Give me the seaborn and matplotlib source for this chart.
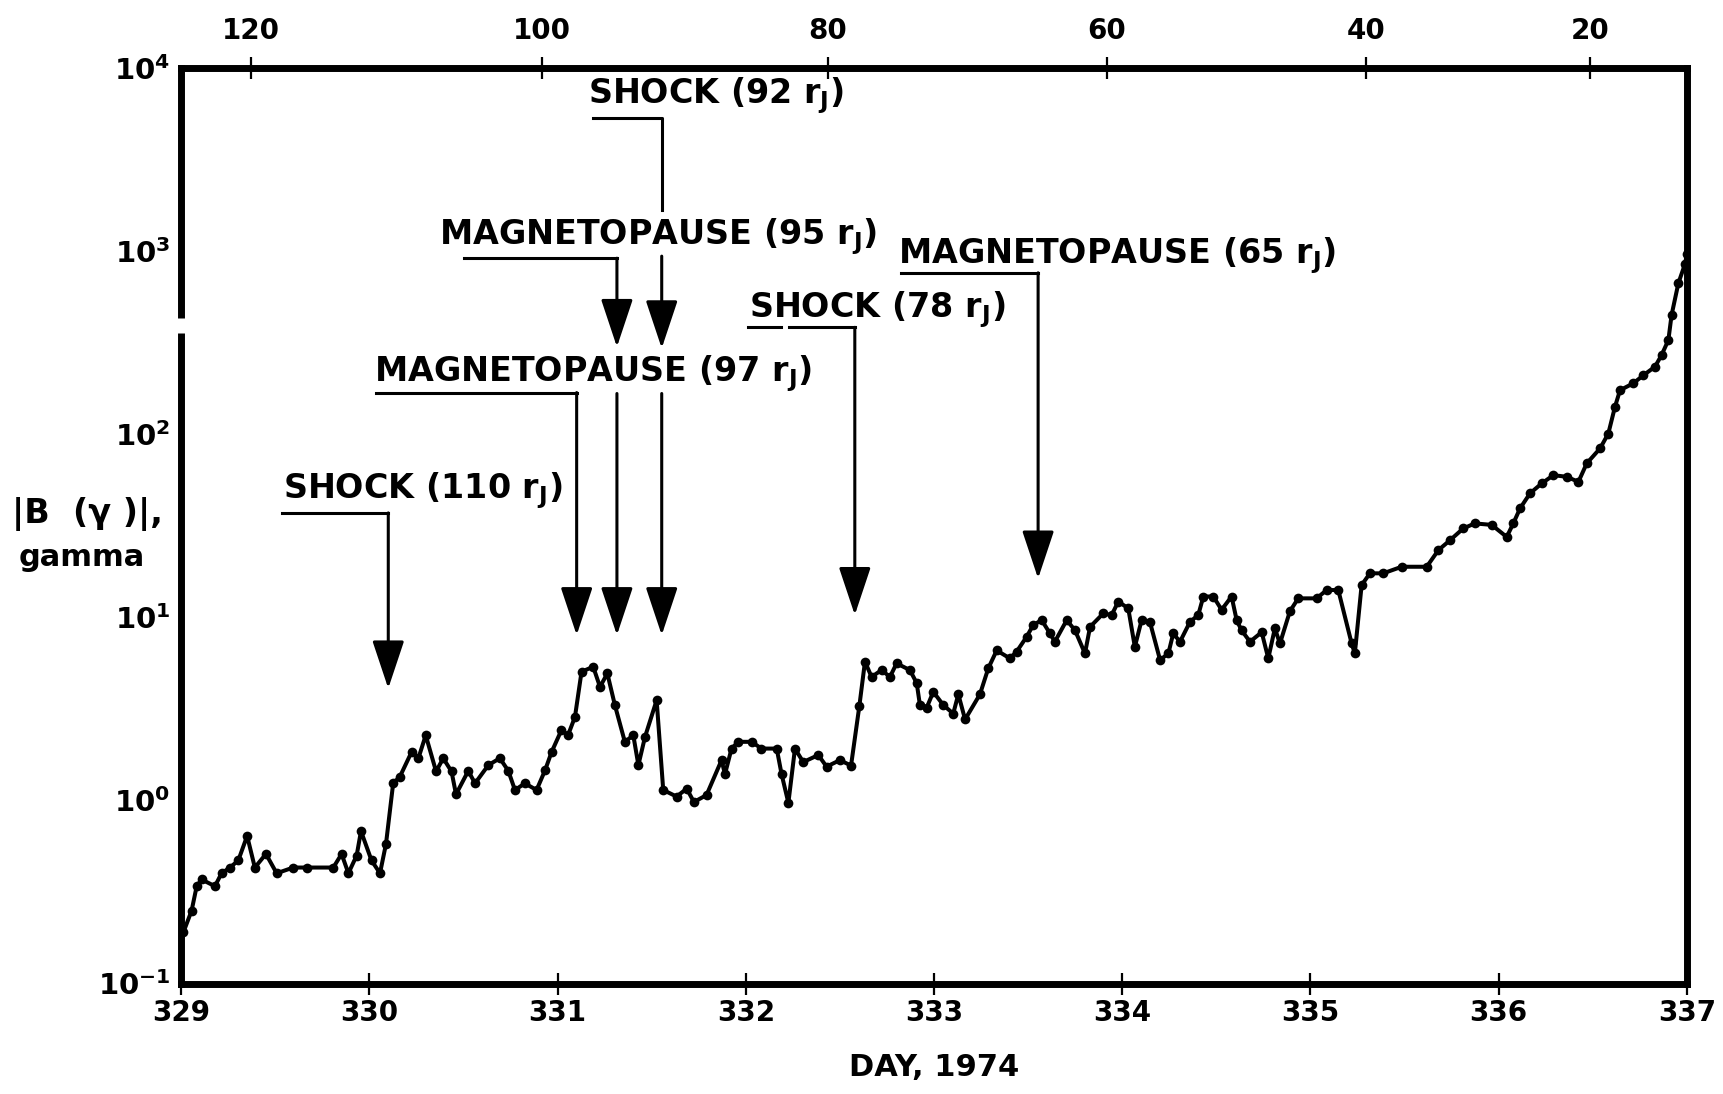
import matplotlib
matplotlib.use("Agg")
import matplotlib.pyplot as plt
import seaborn as sns

# |B| (gamma) versus day of 1974
day = [329.011, 329.055, 329.082, 329.108, 329.179, 329.214, 329.259, 329.303, 329.350, 329.391,
       329.450, 329.507, 329.595, 329.666, 329.808, 329.852, 329.888, 329.932, 329.955, 330.011,
       330.056, 330.088, 330.126, 330.162, 330.224, 330.260, 330.299, 330.354, 330.392, 330.436,
       330.460, 330.525, 330.561, 330.632, 330.693, 330.738, 330.773, 330.826, 330.888, 330.933,
       330.968, 331.020, 331.055, 331.092, 331.127, 331.189, 331.225, 331.264, 331.304, 331.357,
       331.402, 331.429, 331.464, 331.526, 331.561, 331.632, 331.686, 331.724, 331.791, 331.871,
       331.889, 331.924, 331.960, 332.031, 332.083, 332.164, 332.190, 332.226, 332.261, 332.305,
       332.385, 332.429, 332.500, 332.559, 332.603, 332.633, 332.668, 332.721, 332.766, 332.801,
       332.872, 332.908, 332.925, 332.961, 332.996, 333.049, 333.102, 333.129, 333.165, 333.244,
       333.288, 333.333, 333.403, 333.439, 333.492, 333.527, 333.572, 333.616, 333.642, 333.705,
       333.749, 333.802, 333.829, 333.899, 333.944, 333.979, 334.032, 334.067, 334.103, 334.147,
       334.201, 334.245, 334.271, 334.307, 334.360, 334.404, 334.431, 334.484, 334.528, 334.581,
       334.608, 334.634, 334.679, 334.741, 334.776, 334.811, 334.838, 334.891, 334.935, 335.033,
       335.086, 335.148, 335.219, 335.236, 335.272, 335.316, 335.387, 335.485, 335.618, 335.680,
       335.742, 335.812, 335.874, 335.963, 336.043, 336.078, 336.114, 336.167, 336.229, 336.291,
       336.362, 336.424, 336.468, 336.539, 336.583, 336.618, 336.645, 336.716, 336.769, 336.831,
       336.866, 336.902, 336.919, 336.955, 336.990, 337.000]
field = [0.19, 0.25, 0.34, 0.37, 0.34, 0.40, 0.43, 0.47, 0.64, 0.43,
         0.51, 0.40, 0.43, 0.43, 0.43, 0.51, 0.40, 0.50, 0.68, 0.47,
         0.40, 0.58, 1.24, 1.35, 1.84, 1.70, 2.27, 1.44, 1.70, 1.44,
         1.08, 1.45, 1.24, 1.56, 1.70, 1.45, 1.14, 1.24, 1.14, 1.46,
         1.84, 2.42, 2.27, 2.86, 5.05, 5.37, 4.17, 4.94, 3.32, 2.09,
         2.27, 1.56, 2.22, 3.53, 1.14, 1.05, 1.16, 0.98, 1.07, 1.66,
         1.39, 1.92, 2.09, 2.09, 1.92, 1.92, 1.39, 0.97, 1.92, 1.62,
         1.77, 1.53, 1.66, 1.55, 3.27, 5.73, 4.73, 5.15, 4.73, 5.61,
         5.15, 4.37, 3.32, 3.21, 3.92, 3.32, 2.98, 3.80, 2.77, 3.80,
         5.26, 6.60, 5.97, 6.50, 7.83, 9.08, 9.66, 8.17, 7.36, 9.66,
         8.50, 6.35, 8.87, 10.5, 10.3, 12.2, 11.2, 6.90, 9.66, 9.45,
         5.85, 6.35, 8.17, 7.36, 9.45, 10.3, 13.0, 13.0, 11.0, 13.0,
         9.66, 8.50, 7.36, 8.30, 5.97, 8.70, 7.20, 10.8, 12.7, 12.7,
         14.1, 14.1, 7.20, 6.35, 15.0, 17.4, 17.4, 18.9, 18.9, 23.3,
         26.4, 30.6, 32.6, 32.0, 27.5, 32.6, 39.4, 47.6, 53.9, 59.8,
         58.6, 55.0, 69.3, 83.7, 101, 141, 174, 190, 210, 234,
         271, 327, 448, 668, 850, 960]

# radial distance (r_J) scale along the top
r_labels = ["120", "100", "80", "60", "40", "20"]
r_days = [329.368, 330.915, 332.434, 333.917, 335.295, 336.486]

day_ticks = [329, 330, 331, 332, 333, 334, 335, 336, 337]
b_ticks = [0.1, 1, 10, 100, 1000, 10000]
b_tick_labels = ["$10^{-1}$", "$10^{0}$", "$10^{1}$", "$10^{2}$", "$10^{3}$", "$10^{4}$"]

# boundary crossings (day of each arrow) and their labels
events = ["SHOCK (110 r$_{J}$)", "MAGNETOPAUSE (97 r$_{J}$)", "MAGNETOPAUSE (95 r$_{J}$)",
          "SHOCK (92 r$_{J}$)", "SHOCK (78 r$_{J}$)", "MAGNETOPAUSE (65 r$_{J}$)"]
event_days = [330.100, 331.101, 331.315, 331.553, 332.579, 333.553]

sns.set_style("white")
plt.rcParams["font.family"] = ["DejaVu Sans"]
plt.rcParams["font.weight"] = "bold"
plt.rcParams["mathtext.default"] = "bf"
for key in ["text.color", "axes.labelcolor", "xtick.color", "ytick.color", "axes.edgecolor"]:
    plt.rcParams[key] = "black"

fig = plt.figure(figsize=(17.23, 10.94), dpi=100)
ax = fig.add_axes([0.1052, 0.101, 0.8738, 0.8367])

sns.lineplot(x=day, y=field, ax=ax, color="black", linewidth=2.9,
             marker="o", markersize=7, markeredgewidth=0, zorder=3)

ax.set_yscale("log")
ax.set_xlim(329, 337)
ax.set_ylim(0.1, 1e4)
ax.set_xticks(day_ticks, [str(d) for d in day_ticks])
ax.set_yticks(b_ticks, b_tick_labels)
ax.minorticks_off()
ax.set_xlabel("")
ax.set_ylabel("")
ax.tick_params(axis="x", direction="inout", length=16, width=1.6, labelsize=20, pad=3)
ax.tick_params(axis="y", direction="inout", length=12, width=1.6, labelsize=21, pad=2)
for s in ax.spines.values():
    s.set_linewidth(5)

# top axis: distance from Jupiter
ax2 = ax.twiny()
ax2.set_xlim(ax.get_xlim())
ax2.set_xticks(r_days, r_labels)
ax2.tick_params(axis="x", direction="inout", length=16, width=1.6, labelsize=20, pad=9)
for s in ax2.spines.values():
    s.set_visible(False)

# break in the left axis between 10^3 and 10^2
ax.plot([329, 329], [357, 431], color="white", linewidth=9, solid_capstyle="butt",
        clip_on=False, zorder=10)

line_kw = dict(color="black", linewidth=2.2, solid_capstyle="projecting", zorder=4)
arrow_kw = dict(arrowstyle="-|>,head_length=3.0,head_width=1.0", color="black",
                linewidth=2.2, shrinkA=0, shrinkB=0, mutation_scale=10)
text_kw = dict(fontsize=24, fontweight="bold", ha="left", va="baseline", zorder=5)


def arrow(x, y_from, y_to):
    ax.annotate("", xy=(x, y_to), xytext=(x, y_from), arrowprops=arrow_kw, zorder=4)


# SHOCK (110 rJ)
ax.text(329.543, 44.7, events[0], **text_kw)
ax.plot([329.533, event_days[0]], [37.2, 37.2], **line_kw)
arrow(event_days[0], 37.2, 4.09)

# MAGNETOPAUSE (97 rJ)
ax.text(330.022, 194, events[1], **text_kw)
ax.plot([330.034, event_days[1]], [169, 169], **line_kw)
arrow(event_days[1], 169, 8.0)

# MAGNETOPAUSE (95 rJ)
ax.text(330.372, 1086, events[2], **text_kw)
ax.plot([330.500, event_days[2]], [916, 916], **line_kw)
arrow(event_days[2], 916, 300)
arrow(event_days[2], 167, 8.0)

# SHOCK (92 rJ)
ax.text(331.160, 6400, events[3], **text_kw)
ax.plot([331.187, event_days[3], event_days[3]], [5357, 5357, 1675], **line_kw)
arrow(event_days[3], 940, 295)
arrow(event_days[3], 167, 8.0)

# SHOCK (78 rJ)
ax.text(332.017, 438, events[4], **text_kw)
ax.plot([332.012, 332.189], [384, 384], **line_kw)
ax.plot([332.230, event_days[4]], [384, 384], **line_kw)
arrow(event_days[4], 384, 10.3)

# MAGNETOPAUSE (65 rJ)
ax.text(332.809, 857, events[5], **text_kw)
ax.plot([332.827, event_days[5]], [762, 762], **line_kw)
arrow(event_days[5], 762, 16.3)

fig.text(0.051, 0.530, "|B  (\u03b3 )|,", fontsize=24, fontweight="bold", ha="center", va="center")
fig.text(0.0476, 0.490, "gamma", fontsize=22, fontweight="bold", ha="center", va="center")
fig.text(0.542, 0.0238, "DAY, 1974", fontsize=22, fontweight="bold", ha="center", va="center")

fig.savefig("out.png", dpi=100, facecolor="white")
